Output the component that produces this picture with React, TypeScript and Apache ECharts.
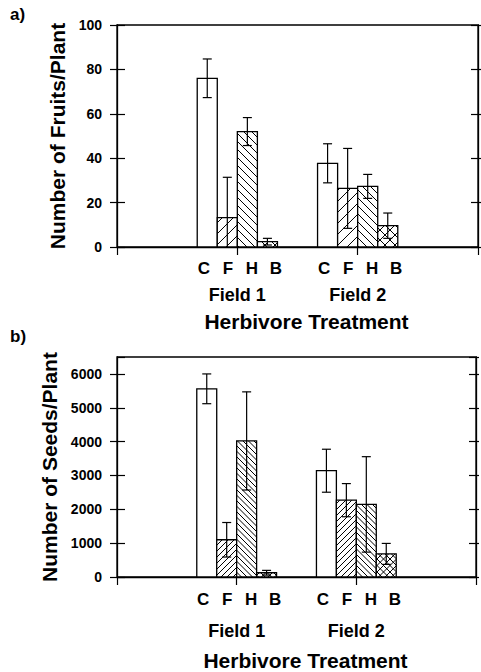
import React, { useEffect, useRef } from "react";
import * as echarts from "echarts";

// ---------- data ----------
const treatments = ["C", "F", "H", "B"];
const fields = ["Field 1", "Field 2"];
const fieldPositions = [1, 2];

const fruitsField1 = [76, 13.2, 52, 2.4];
const fruitsErrField1 = [8.7, 18.2, 6.3, 1.5];
const fruitsField2 = [37.7, 26.4, 27.3, 9.6];
const fruitsErrField2 = [8.8, 18, 5.4, 5.7];

const seedsField1 = [5560, 1100, 4020, 126];
const seedsErrField1 = [440, 510, 1450, 70];
const seedsField2 = [3140, 2270, 2145, 682];
const seedsErrField2 = [635, 490, 1410, 310];

const fruitsTicks = { min: 0, max: 100, interval: 20 };
const seedsTicks = { min: 0, max: 6500, interval: 1000 };

const xTitle = "Herbivore Treatment";
const fruitsTitle = "Number of Fruits/Plant";
const seedsTitle = "Number of Seeds/Plant";

// ---------- styles ----------
const FONT = '"Liberation Sans", Arial, Helvetica, sans-serif';
const BAR_W = 1 / 6; // in x-axis units

function buildData(v1: number[], e1: number[], v2: number[], e2: number[]) {
  const out: number[][] = [];
  [[v1, e1], [v2, e2]].forEach(([vals, errs], f) => {
    vals.forEach((v, t) => out.push([fieldPositions[f], t, v, errs[t]]));
  });
  return out;
}

function hatchLines(kind: string, s: number, x0: number, y0: number, x1: number, y1: number) {
  const els: any[] = [];
  const ls = { stroke: "#000", lineWidth: 1 };
  if (kind === "fwd" || kind === "cross") {
    const cStart = Math.ceil((x0 + y0) / s) * s;
    for (let c = cStart; c <= x1 + y1; c += s) {
      const xa = Math.max(x0, c - y1);
      const xb = Math.min(x1, c - y0);
      if (xb - xa > 0.5)
        els.push({ type: "line", shape: { x1: xa, y1: c - xa, x2: xb, y2: c - xb }, style: ls });
    }
  }
  if (kind === "back" || kind === "cross") {
    const cStart = Math.ceil((y0 - x1) / s) * s;
    for (let c = cStart; c <= y1 - x0; c += s) {
      const xa = Math.max(x0, y0 - c);
      const xb = Math.min(x1, y1 - c);
      if (xb - xa > 0.5)
        els.push({ type: "line", shape: { x1: xa, y1: xa + c, x2: xb, y2: xb + c }, style: ls });
    }
  }
  return els;
}

function makeRenderItem(spacing: number[], letterDy: number) {
  const kinds = ["none", "fwd", "back", "cross"];
  return (params: any, api: any) => {
    const g = api.value(0);
    const t = api.value(1);
    const v = api.value(2);
    const e = api.value(3);
    const pL = api.coord([g + (t - 2) * BAR_W, v]);
    const pR = api.coord([g + (t - 1) * BAR_W, 0]);
    const x0 = pL[0], y0 = pL[1], x1 = pR[0], y1 = pR[1];
    const children: any[] = [];
    children.push({
      type: "rect",
      shape: { x: x0, y: y0, width: x1 - x0, height: y1 - y0 },
      style: { fill: "#fff", stroke: "none" },
    });
    children.push(...hatchLines(kinds[t], spacing[t], x0, y0, x1, y1));
    children.push({
      type: "rect",
      shape: { x: x0, y: y0, width: x1 - x0, height: y1 - y0 },
      style: { fill: "none", stroke: "#000", lineWidth: 1.3 },
    });
    // error bar
    const cx = (x0 + x1) / 2;
    const top = api.coord([g, v + e])[1];
    const lowVal = v - e;
    const bot = api.coord([g, Math.max(0, lowVal)])[1];
    const es = { stroke: "#000", lineWidth: 1.2 };
    children.push({ type: "line", shape: { x1: cx, y1: top, x2: cx, y2: bot }, style: es });
    children.push({ type: "line", shape: { x1: cx - 4.5, y1: top, x2: cx + 4.5, y2: top }, style: es });
    if (lowVal > 0)
      children.push({ type: "line", shape: { x1: cx - 4.5, y1: bot, x2: cx + 4.5, y2: bot }, style: es });
    // treatment letter
    const gc = api.coord([g, 0]);
    children.push({
      type: "text",
      x: gc[0] + (t - 1.5) * 24 + 2.5,
      y: gc[1] + letterDy,
      style: {
        text: treatments[t],
        fill: "#000",
        font: `bold 17px ${FONT}`,
        textAlign: "center",
        textVerticalAlign: "middle",
      },
    });
    return { type: "group", children };
  };
}

function panelAxes(
  gi: number,
  ticks: { min: number; max: number; interval: number },
  yName: string,
  fieldMargin: number,
  titleGap: number,
  showMax: boolean
) {
  const base = { gridIndex: gi, type: "value", min: ticks.min, max: ticks.max, interval: ticks.interval, splitLine: { show: false } };
  const xAxis = {
    gridIndex: gi,
    type: "value",
    min: 0,
    max: 3,
    interval: 1,
    splitLine: { show: false },
    axisLine: { show: true, lineStyle: { color: "#000", width: 1.3 } },
    axisTick: { show: true, length: 8, lineStyle: { color: "#000", width: 1.2 } },
    axisLabel: {
      margin: fieldMargin,
      color: "#000",
      fontFamily: FONT,
      fontWeight: "bold",
      fontSize: 18,
      formatter: (val: number) => {
        const i = fieldPositions.indexOf(val);
        return i >= 0 ? fields[i] : "";
      },
    },
    name: xTitle,
    nameLocation: "middle",
    nameGap: titleGap,
    nameTextStyle: { color: "#000", fontFamily: FONT, fontWeight: "bold", fontSize: 21, padding: [0, 0, 0, 18] },
  };
  const yAxes = [
    {
      ...base,
      position: "left",
      axisLine: { show: true, lineStyle: { color: "#000", width: 1.3 } },
      axisTick: { show: true, length: 7, lineStyle: { color: "#000", width: 1.2 } },
      axisLabel: {
        margin: 15,
        color: "#000",
        fontFamily: FONT,
        fontWeight: "bold",
        fontSize: 14,
        showMaxLabel: showMax,
        formatter: (val: number) => String(val),
      },
      name: yName,
      nameLocation: "middle",
      nameGap: 46,
      nameTextStyle: { color: "#000", fontFamily: FONT, fontWeight: "bold", fontSize: 21 },
    },
    {
      ...base,
      position: "left",
      axisLine: { show: false },
      axisTick: { show: true, inside: true, length: 8, lineStyle: { color: "#000", width: 1.2 } },
      axisLabel: { show: false },
    },
    {
      ...base,
      position: "right",
      axisLine: { show: true, lineStyle: { color: "#000", width: 1.3 } },
      axisTick: { show: true, inside: true, length: 7, lineStyle: { color: "#000", width: 1.2 } },
      axisLabel: { show: false },
    },
    {
      ...base,
      position: "right",
      axisLine: { show: false },
      axisTick: { show: true, length: 3, lineStyle: { color: "#000", width: 1.2 } },
      axisLabel: { show: false },
    },
  ];
  return { xAxis, yAxes };
}

export default function App() {
  const ref = useRef<HTMLDivElement>(null);
  useEffect(() => {
    if (!ref.current) return;
    const chart = echarts.init(ref.current, null, { renderer: "svg" });
    const a = panelAxes(0, fruitsTicks, fruitsTitle, 39, 64, true);
    const b = panelAxes(1, seedsTicks, seedsTitle, 45, 73, false);
    chart.setOption({
      animation: false,
      backgroundColor: "#fff",
      textStyle: { fontFamily: FONT },
      grid: [
        { left: 117, top: 25, width: 361, height: 222, show: true, borderColor: "#000", borderWidth: 1.3, backgroundColor: "transparent" },
        { left: 117, top: 357, width: 359, height: 221, show: true, borderColor: "#000", borderWidth: 1.3, backgroundColor: "transparent" },
      ],
      xAxis: [a.xAxis, b.xAxis],
      yAxis: [...a.yAxes, ...b.yAxes],
      graphic: [
        { type: "text", left: 10, top: 6, style: { text: "a)", fill: "#000", font: `bold 17px ${FONT}` } },
        { type: "text", left: 10, top: 328, style: { text: "b)", fill: "#000", font: `bold 17px ${FONT}` } },
      ],
      series: [
        {
          type: "custom",
          xAxisIndex: 0,
          yAxisIndex: 0,
          renderItem: makeRenderItem([0, 11, 8, 10], 21),
          data: buildData(fruitsField1, fruitsErrField1, fruitsField2, fruitsErrField2),
          clip: false,
          z: 10,
        },
        {
          type: "custom",
          xAxisIndex: 1,
          yAxisIndex: 4,
          renderItem: makeRenderItem([0, 6, 5.5, 6.5], 22),
          data: buildData(seedsField1, seedsErrField1, seedsField2, seedsErrField2),
          clip: false,
          z: 10,
        },
      ],
    });
    return () => chart.dispose();
  }, []);
  return <div ref={ref} style={{ position: "fixed", left: 0, top: 0, width: 481, height: 672 }} />;
}
